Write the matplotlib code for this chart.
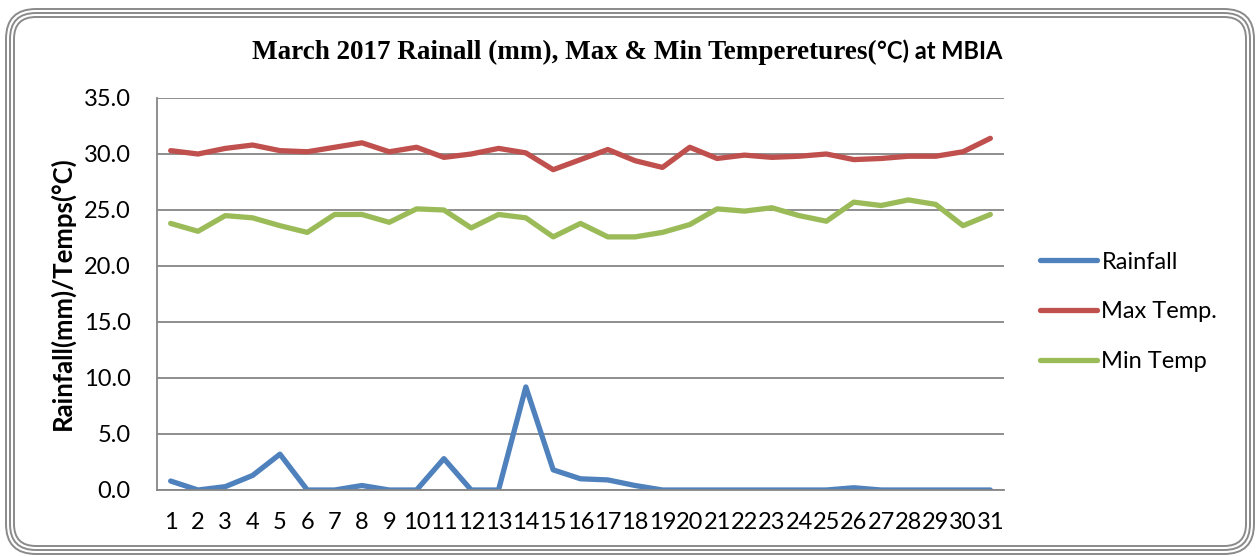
import matplotlib
matplotlib.use('Agg')
import matplotlib.pyplot as plt
from matplotlib.patches import FancyBboxPatch
import numpy as np

plt.rcParams['font.family'] = ['Lato', 'DejaVu Sans']

# daily values for March 2017
days = list(range(1, 32))
rainfall = [0.8, 0.0, 0.3, 1.3, 3.2, 0.0, 0.0, 0.4, 0.0, 0.0,
            2.8, 0.0, 0.0, 9.2, 1.8, 1.0, 0.9, 0.4, 0.0, 0.0,
            0.0, 0.0, 0.0, 0.0, 0.0, 0.2, 0.0, 0.0, 0.0, 0.0, 0.0]
max_temp = [30.3, 30.0, 30.5, 30.8, 30.3, 30.2, 30.6, 31.0, 30.2, 30.6,
            29.7, 30.0, 30.5, 30.1, 28.6, 29.5, 30.4, 29.4, 28.8, 30.6,
            29.6, 29.9, 29.7, 29.8, 30.0, 29.5, 29.6, 29.8, 29.8, 30.2, 31.4]
min_temp = [23.8, 23.1, 24.5, 24.3, 23.6, 23.0, 24.6, 24.6, 23.9, 25.1,
            25.0, 23.4, 24.6, 24.3, 22.6, 23.8, 22.6, 22.6, 23.0, 23.7,
            25.1, 24.9, 25.2, 24.5, 24.0, 25.7, 25.4, 25.9, 25.5, 23.6, 24.6]
series_names = ['Rainfall', 'Max Temp.', 'Min Temp']
y_ticks = [0, 5, 10, 15, 20, 25, 30, 35]

W, H = 1260, 556
fig = plt.figure(figsize=(W / 100, H / 100), dpi=100)

# background axes in pixel units for the rounded triple frame
bg = fig.add_axes([0, 0, 1, 1], zorder=-1)
bg.set_xlim(0, W)
bg.set_ylim(0, H)
bg.axis('off')
for inset, rad in [(0, 30), (4, 26), (8, 22)]:
    x0, y0 = 6 + inset, 2 + inset
    w, h = 1248 - 2 * inset, 545 - 2 * inset
    bg.add_patch(FancyBboxPatch((x0 + rad, y0 + rad), w - 2 * rad, h - 2 * rad,
                                boxstyle='round,pad=%d' % rad,
                                fc='none', ec='#8a8a8a', lw=1.4))

ax = fig.add_axes([157 / W, 1 - 490 / H, 847 / W, 392 / H])
colors = ['#4f81bd', '#c0504d', '#9bbb59']
for vals, name, c in zip([rainfall, max_temp, min_temp], series_names, colors):
    ax.plot(days, vals, color=c, lw=3.8, label=name, solid_capstyle='round',
            solid_joinstyle='round')

ax.set_xlim(0.5, 31.5)
ax.set_ylim(0, 35)
ax.set_yticks(y_ticks)
ax.set_yticklabels(['%.1f' % v for v in y_ticks])
ax.set_xticks(days)
ax.set_xticklabels([str(d) for d in days])
ax.tick_params(axis='y', length=0, pad=19, labelsize=17)
ax.tick_params(axis='x', length=0, pad=16, labelsize=17)
ax.grid(axis='y', color='#868686', lw=1.3)
ax.set_axisbelow(True)
for s in ['top', 'right']:
    ax.spines[s].set_visible(False)
for s in ['left', 'bottom']:
    ax.spines[s].set_color('#868686')
    ax.spines[s].set_linewidth(1.3)

fig.text(62 / W, 1 - 293 / H, 'Rainfall(mm)/Temps(°C)', rotation=90,
         ha='center', va='center', fontsize=18.5, fontweight='bold')

# title: serif part then sans part, like the original
split_x = 877 / W
title_y = 1 - 59 / H
fig.text(split_x, title_y, 'March 2017 Rainall (mm), Max & Min Temperetures(',
         ha='right', va='baseline', fontsize=19.5, fontweight='bold',
         family=['Liberation Serif', 'DejaVu Serif'])
fig.text(split_x, title_y, '°C) at MBIA', ha='left', va='baseline',
         fontsize=17, fontweight='bold')

fig.legend(loc='center left', bbox_to_anchor=(1040 / W, 1 - 312 / H),
           frameon=False, fontsize=17, handlelength=2.4, handletextpad=0.2,
           labelspacing=1.22, borderpad=0, borderaxespad=0)

fig.savefig('out.png', dpi=100)
